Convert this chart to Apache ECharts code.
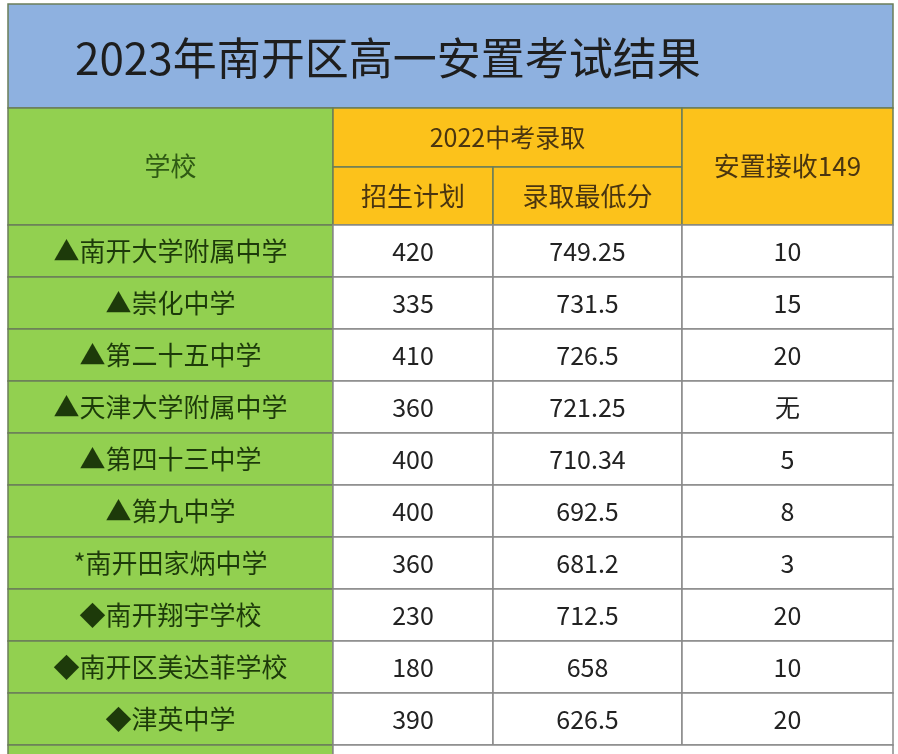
<!DOCTYPE html>
<html><head><meta charset="utf-8">
<script src="https://cdn.jsdelivr.net/npm/echarts@6/dist/echarts.min.js"></script>
<style>html,body{margin:0;padding:0;background:#fff}#c{width:898px;height:754px}</style>
</head><body><div id="c"></div>
<script>
const title = '2023年南开区高一安置考试结果';
const headerSchool = '学校';
const headerGroup = '2022中考录取';
const headerPlan = '招生计划';
const headerScore = '录取最低分';
const headerPlace = '安置接收149';
const schools = ['▲南开大学附属中学','▲崇化中学','▲第二十五中学','▲天津大学附属中学','▲第四十三中学','▲第九中学','*南开田家炳中学','◆南开翔宇学校','◆南开区美达菲学校','◆津英中学'];
const plans = ['420','335','410','360','400','400','360','230','180','390'];
const scores = ['749.25','731.5','726.5','721.25','710.34','692.5','681.2','712.5','658','626.5'];
const places = ['10','15','20','无','5','8','3','20','10','20'];

const X = [8, 333, 493, 682, 893];
const Y0 = 108, YH = 167, YD = 225, RH = 52;
const GREEN = '#92d050', ORANGE = '#fcc21b', BLUE = '#8eb1e0';
const cells = [];
function add(x0,y0,x1,y1,fill,text,color,size){cells.push([x0,y0,x1,y1,fill,text,color,size]);}
add(8,4,893,Y0,BLUE,'','#222',40);
add(X[0],Y0,X[1],YD,GREEN,headerSchool,'#2f5a14',26);
add(X[1],Y0,X[3],YH,ORANGE,headerGroup,'#4a3510',25);
add(X[1],YH,X[2],YD,ORANGE,headerPlan,'#4a3510',26);
add(X[2],YH,X[3],YD,ORANGE,headerScore,'#4a3510',26);
add(X[3],Y0,X[4],YD,ORANGE,headerPlace,'#4a3510',26);
schools.forEach((s,i)=>{
  const y=YD+i*RH;
  add(X[0],y,X[1],y+RH,GREEN,s,'#1d3a0a',26);
  add(X[1],y,X[2],y+RH,'#fff',plans[i],'#222',25);
  add(X[2],y,X[3],y+RH,'#fff',scores[i],'#222',25);
  add(X[3],y,X[4],y+RH,'#fff',places[i],'#222',25);
});
const yl=YD+schools.length*RH;
add(X[0],yl,X[1],yl+RH,GREEN,'','#000',20);
add(X[1],yl,X[4],yl+RH,'#fff','','#000',20);

const chart = echarts.init(document.getElementById('c'));
chart.setOption({
  animation:false,
  grid:{left:0,right:0,top:0,bottom:0},
  xAxis:{type:'value',min:0,max:898,show:false},
  yAxis:{type:'value',min:0,max:754,inverse:true,show:false},
  series:[{
    type:'custom',
    data:cells,
    renderItem:(p,api)=>{
      const d=cells[p.dataIndex];
      const a=api.coord([d[0],d[1]]), b=api.coord([d[2],d[3]]);
      const ch=[{type:'rect',shape:{x:a[0],y:a[1],width:b[0]-a[0],height:b[1]-a[1]},
        style:{fill:d[4],stroke:d[4]==='#fff'?'#8a8a8a':'#6b7d5a',lineWidth:1.5}}];
      if(d[5]) ch.push({type:'text',style:{text:d[5],x:(a[0]+b[0])/2,y:(a[1]+b[1])/2,
        textAlign:'center',textVerticalAlign:'middle',fill:d[6],
        font:d[7]+'px "Noto Sans CJK SC"'}});
      return {type:'group',children:ch};
    }
  },{
    type:'custom',data:[[75,58]],
    renderItem:(p,api)=>{const c=api.coord([75,58]);return {type:'text',style:{text:title,x:c[0],y:c[1],
      textVerticalAlign:'middle',fill:'#1e1e1e',font:'normal 44px "Noto Sans CJK SC"'}};}
  }]
});
</script></body></html>
